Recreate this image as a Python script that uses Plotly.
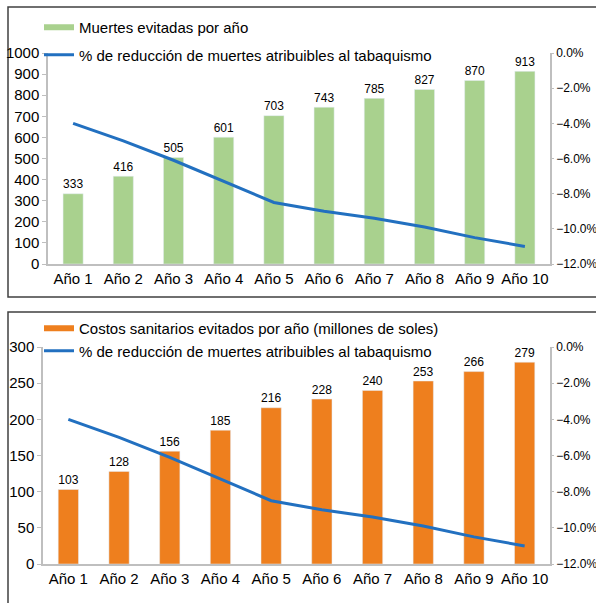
import plotly.graph_objects as go

categories = ["Año 1", "Año 2", "Año 3", "Año 4", "Año 5", "Año 6", "Año 7", "Año 8", "Año 9", "Año 10"]
muertes = [333, 416, 505, 601, 703, 743, 785, 827, 870, 913]
costos = [103, 128, 156, 185, 216, 228, 240, 253, 266, 279]
reduccion = [-0.040, -0.050, -0.061, -0.073, -0.085, -0.090, -0.094, -0.099, -0.105, -0.110]

name_muertes = "Muertes evitadas por año"
name_costos = "Costos sanitarios evitados por año (millones de soles)"
name_red = "% de reducción de muertes atribuibles al tabaquismo"

W, H = 596, 603
FONT = "Liberation Sans, Arial, sans-serif"
FS = 15
GREEN = "#A9D18E"
ORANGE = "#EE7F1E"
BLUE = "#2270C0"
AX = "#BFBFBF"

def px(x):
    return x / W

def py(y):
    return 1 - y / H

fig = go.Figure()

# top panel
fig.add_trace(go.Bar(x=categories, y=muertes, marker_color=GREEN, text=muertes,
                     textposition="outside", cliponaxis=False,
                     textfont=dict(size=16, color="#000"), showlegend=False,
                     xaxis="x", yaxis="y"))
fig.add_trace(go.Scatter(x=[None], y=[None], mode="lines", line=dict(color=GREEN, width=6),
                         name=name_muertes, legend="legend", legendgroup="a",
                         xaxis="x", yaxis="y"))
fig.add_trace(go.Scatter(x=categories, y=reduccion, mode="lines", line=dict(color=BLUE, width=3),
                         name=name_red, legend="legend", legendgroup="b",
                         xaxis="x", yaxis="y2"))

# bottom panel
fig.add_trace(go.Bar(x=categories, y=costos, marker_color=ORANGE, text=costos,
                     textposition="outside", cliponaxis=False,
                     textfont=dict(size=16, color="#000"), showlegend=False,
                     xaxis="x2", yaxis="y3"))
fig.add_trace(go.Scatter(x=[None], y=[None], mode="lines", line=dict(color=ORANGE, width=6),
                         name=name_costos, legend="legend2",
                         xaxis="x2", yaxis="y3"))
fig.add_trace(go.Scatter(x=categories, y=reduccion, mode="lines", line=dict(color=BLUE, width=3),
                         name=name_red, legend="legend2",
                         xaxis="x2", yaxis="y4"))

tickfont = dict(size=FS, color="#000", family=FONT)
rtickfont = dict(size=12, color="#000", family=FONT)

common_x = dict(type="category", showline=True, linecolor=AX, linewidth=1.5, ticks="",
                tickangle=0, tickfont=tickfont, showgrid=False, zeroline=False)
pct_vals = [0, -0.02, -0.04, -0.06, -0.08, -0.10, -0.12]
fig.update_layout(
    xaxis=dict(domain=[px(48), px(550)], anchor="y", **common_x),
    yaxis=dict(domain=[py(264), py(53)], range=[0, 1000], dtick=100, showline=True,
               linecolor=AX, linewidth=1.5, ticks="outside", ticklen=4, tickcolor=AX,
               tickfont=tickfont, showgrid=False, zeroline=False, anchor="x"),
    yaxis2=dict(overlaying="y", side="right", anchor="x", range=[-0.12, 0],
                tickvals=pct_vals, tickformat=".1%",
                showline=True, linecolor=AX, linewidth=1.5, ticks="outside", ticklen=2,
                tickcolor=AX, tickfont=rtickfont, showgrid=False, zeroline=False),
    xaxis2=dict(domain=[px(43), px(550)], anchor="y3", **common_x),
    yaxis3=dict(domain=[py(564), py(347)], range=[0, 300], dtick=50, showline=True,
                linecolor=AX, linewidth=1.5, ticks="outside", ticklen=4, tickcolor=AX,
                tickfont=tickfont, showgrid=False, zeroline=False, anchor="x2"),
    yaxis4=dict(overlaying="y3", side="right", anchor="x2", range=[-0.12, 0],
                tickvals=pct_vals, tickformat=".1%",
                showline=True, linecolor=AX, linewidth=1.5, ticks="outside", ticklen=2,
                tickcolor=AX, tickfont=rtickfont, showgrid=False, zeroline=False),
    bargap=0.6,
    width=W, height=H,
    margin=dict(l=0, r=0, t=0, b=0, autoexpand=False),
    paper_bgcolor="white", plot_bgcolor="white",
    font=dict(family=FONT, size=FS, color="#000"),
    legend=dict(x=px(39), y=py(11), xanchor="left", yanchor="top", bgcolor="rgba(0,0,0,0)",
                traceorder="grouped", tracegroupgap=5, font=dict(size=FS, family=FONT)),
    legend2=dict(x=px(39), y=py(312), xanchor="left", yanchor="top", bgcolor="rgba(0,0,0,0)",
                 traceorder="normal", font=dict(size=FS, family=FONT)),
    shapes=[
        dict(type="rect", xref="paper", yref="paper", x0=px(8), x1=px(620), y0=py(297), y1=py(7),
             line=dict(color="#404040", width=1.5), layer="below"),
        dict(type="rect", xref="paper", yref="paper", x0=px(8), x1=px(620), y0=py(640), y1=py(312),
             line=dict(color="#404040", width=1.5), layer="below"),
    ],
)

fig.write_html(
    "out.html",
    config={"displayModeBar": False},
    post_script="document.body.style.margin='0';document.body.style.overflow='hidden';"
                "document.documentElement.style.overflow='hidden';",
)
